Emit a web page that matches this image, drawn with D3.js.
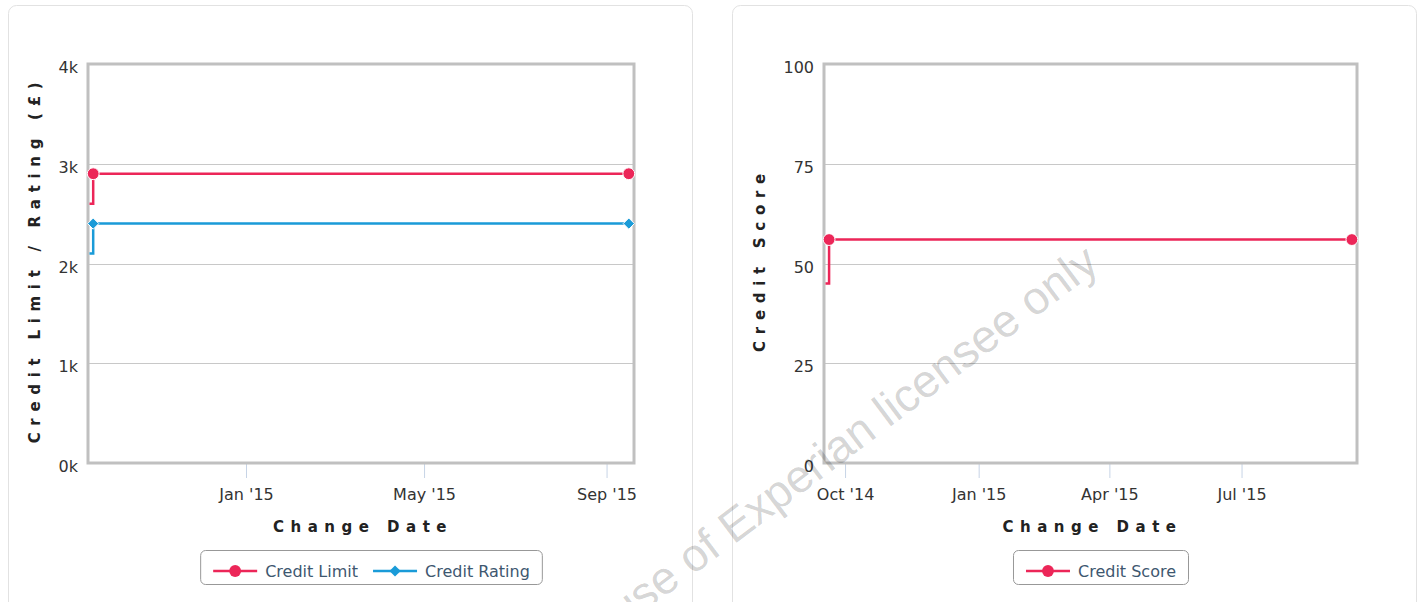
<!DOCTYPE html>
<html>
<head>
<meta charset="utf-8">
<script src="https://cdn.jsdelivr.net/npm/d3@7"></script>
<style>
  body { margin: 0; background: #fff; }
  svg { display: block; font-family: "DejaVu Sans", Verdana, sans-serif; }
</style>
</head>
<body>
<svg id="page" width="1423" height="602"></svg>
<script>
var width = 1423
var height = 602
var parse = d3.timeParse("%Y-%m-%d");

// left chart data
var limitDates = ["2014-06-01", "2014-09-20", "2015-09-16"];
var limitValues = [2600, 2900, 2900];
var ratingDates = ["2014-06-01", "2014-09-20", "2015-09-16"];
var ratingValues = [2100, 2400, 2400];
var leftTicksX = ["2015-01-01", "2015-05-01", "2015-09-01"];
var leftTicksY = [0, 1000, 2000, 3000, 4000];

// right chart data
var scoreDates = ["2014-06-01", "2014-09-20", "2015-09-15"];
var scoreValues = [45, 56, 56];
var rightTicksX = ["2014-10-01", "2015-01-01", "2015-04-01", "2015-07-01"];
var rightTicksY = [0, 25, 50, 75, 100];

var red = "#ec2658";
var blue = "#1a9bd8";

var svg = d3.select("#page");

// cards
[[8, 684], [732, 684]].forEach(function (c) {
  svg.append("rect")
    .attr("x", c[0] + 0.5).attr("y", 5.5)
    .attr("width", c[1]).attr("height", 620)
    .attr("rx", 8)
    .attr("fill", "#fff")
    .attr("stroke", "#e2e2e2");
});

function zip(dates, values) {
  return dates.map(function (d, i) { return { date: parse(d), value: values[i] }; });
}

function symbolFor(s) {
  return d3.symbol()
    .type(s.symbol === "diamond" ? d3.symbolDiamond2 : d3.symbolCircle)
    .size(s.symbol === "diamond" ? 80 : 110);
}

function drawChart(o) {
  var g = svg.append("g");
  var dates = [];
  o.series.forEach(function (s) { s.data.slice(1).forEach(function (d) { dates.push(d.date); }); });
  var ext = d3.extent(dates);
  var pad = 3.5 * 864e5;

  var x = d3.scaleTime()
    .domain([new Date(+ext[0] - pad), new Date(+ext[1] + pad)])
    .range([o.left, o.right]);
  var y = d3.scaleLinear()
    .domain([0, o.yMax])
    .range([o.bottom, o.top]);

  // grid
  g.selectAll(".grid")
    .data(o.yTicks)
    .enter().append("line")
    .attr("x1", o.left).attr("x2", o.right)
    .attr("y1", function (d) { return Math.round(y(d)) + 0.5; })
    .attr("y2", function (d) { return Math.round(y(d)) + 0.5; })
    .attr("stroke", "#c8c8c8");

  // y labels
  g.selectAll(".ylab")
    .data(o.yTicks)
    .enter().append("text")
    .attr("x", o.left - 10)
    .attr("y", function (d) { return y(d) + 9; })
    .attr("text-anchor", "end")
    .attr("font-size", 16)
    .attr("fill", "#333")
    .text(o.yFormat);

  // x axis ticks
  var xTicks = o.xTicks.map(parse);
  var xAxis = d3.axisBottom(x)
    .tickValues(xTicks)
    .tickSize(14)
    .tickPadding(11)
    .tickFormat(d3.timeFormat("%b '%y"));
  var ax = g.append("g")
    .attr("transform", "translate(0," + (o.bottom + 1) + ")")
    .call(xAxis);
  ax.select(".domain").remove();
  ax.selectAll(".tick line").attr("stroke", "#c7d4e6");
  ax.selectAll(".tick text")
    .attr("font-size", 16)
    .attr("font-family", "DejaVu Sans, Verdana, sans-serif")
    .attr("fill", "#333");

  // plot border
  g.append("rect")
    .attr("x", o.left).attr("y", o.top)
    .attr("width", o.right - o.left).attr("height", o.bottom - o.top)
    .attr("fill", "none")
    .attr("stroke", "#c0c0c0")
    .attr("stroke-width", 3);

  // clip
  var clipId = "clip" + o.left;
  svg.append("clipPath").attr("id", clipId)
    .append("rect")
    .attr("x", o.left + 1.5).attr("y", o.top)
    .attr("width", o.right - o.left).attr("height", o.bottom - o.top);

  var line = d3.line()
    .curve(d3.curveStepAfter)
    .x(function (d) { return x(d.date); })
    .y(function (d) { return y(d.value); });

  o.series.forEach(function (s) {
    g.append("path")
      .datum(s.data)
      .attr("clip-path", "url(#" + clipId + ")")
      .attr("d", line)
      .attr("fill", "none")
      .attr("stroke", s.color)
      .attr("stroke-width", 2.5);

    var pts = s.data.filter(function (d) { return d.date >= x.domain()[0]; });
    g.selectAll(null)
      .data(pts)
      .enter().append("path")
      .attr("transform", function (d) { return "translate(" + x(d.date) + "," + y(d.value) + ")"; })
      .attr("d", symbolFor(s))
      .attr("fill", s.color)
      .attr("stroke", "#fff")
      .attr("stroke-width", 1);
  });

  // axis titles
  g.append("text")
    .attr("transform", "translate(" + o.yTitleX + "," + ((o.top + o.bottom) / 2 - 4) + ") rotate(-90)")
    .attr("text-anchor", "middle")
    .attr("dy", "0.35em")
    .attr("font-size", 15)
    .attr("font-weight", "bold")
    .attr("letter-spacing", 6.7)
    .attr("fill", "#222")
    .text(o.yTitle);

  g.append("text")
    .attr("x", (o.left + o.right) / 2 + 2)
    .attr("y", 532)
    .attr("text-anchor", "middle")
    .attr("font-size", 15)
    .attr("font-weight", "bold")
    .attr("letter-spacing", 6.5)
    .attr("fill", "#222")
    .text("Change Date");

  // legend
  var box = g.append("rect");
  var lg = g.append("g");
  var cx = 0;
  o.series.forEach(function (s) {
    var it = lg.append("g").attr("transform", "translate(" + cx + ",0)");
    it.append("line")
      .attr("x1", 0).attr("x2", 44)
      .attr("y1", 0).attr("y2", 0)
      .attr("stroke", s.color).attr("stroke-width", 2.5);
    it.append("path")
      .attr("transform", "translate(22,0)")
      .attr("d", symbolFor(s))
      .attr("fill", s.color);
    var t = it.append("text")
      .attr("x", 52).attr("y", 6)
      .attr("font-size", 16)
      .attr("fill", "#3e576f")
      .text(s.name);
    cx += 52 + t.node().getComputedTextLength() + 15;
  });
  var lw = cx - 15 + 25;
  var lx = (o.left + o.right) / 2 - lw / 2 + 10;
  lg.attr("transform", "translate(" + (lx + 13) + ",571)");
  box.attr("x", lx + 0.5).attr("y", 550.5)
    .attr("width", lw).attr("height", 34)
    .attr("rx", 5)
    .attr("fill", "#fff")
    .attr("stroke", "#989898");
}

drawChart({
  left: 88, right: 634, top: 64, bottom: 463,
  yMax: 4000, yTicks: leftTicksY, xTicks: leftTicksX,
  yFormat: function (d) { return d / 1000 + "k"; },
  yTitle: "Credit Limit / Rating (£)", yTitleX: 35,
  series: [
    { name: "Credit Limit", color: red, symbol: "circle", data: zip(limitDates, limitValues) },
    { name: "Credit Rating", color: blue, symbol: "diamond", data: zip(ratingDates, ratingValues) }
  ]
});

drawChart({
  left: 824, right: 1357, top: 64, bottom: 463,
  yMax: 100, yTicks: rightTicksY, xTicks: rightTicksX,
  yFormat: function (d) { return d; },
  yTitle: "Credit Score", yTitleX: 760,
  series: [
    { name: "Credit Score", color: red, symbol: "circle", data: zip(scoreDates, scoreValues) }
  ]
});

// watermark
svg.append("text")
  .attr("transform", "translate(1101,268) rotate(-37)")
  .attr("text-anchor", "end")
  .attr("font-family", "Liberation Sans, Arial, sans-serif")
  .attr("font-size", 46)
  .attr("fill", "#000")
  .attr("fill-opacity", 0.18)
  .text("For use of Experian licensee only");
</script>
</body>
</html>
